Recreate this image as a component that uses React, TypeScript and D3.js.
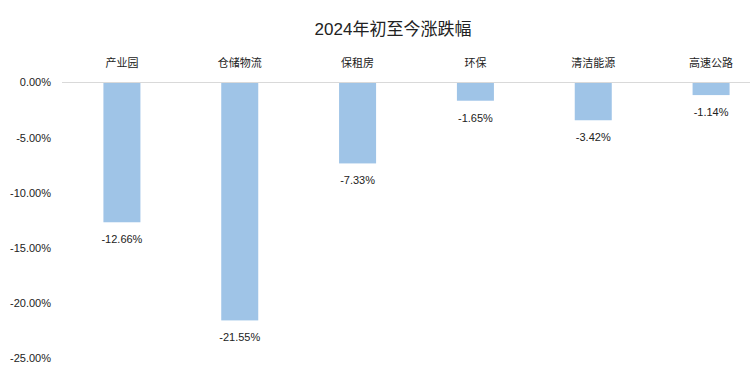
import React from "react";
import * as d3 from "d3";

const categories = ["产业园", "仓储物流", "保租房", "环保", "清洁能源", "高速公路"];
const values = [-12.66, -21.55, -7.33, -1.65, -3.42, -1.14];
const ticks = [0, -5, -10, -15, -20, -25];

const W = 750;
const H = 390;
const FONT = '"Liberation Sans", Arial, "Noto Sans CJK SC", sans-serif';

export default function App() {
  const x = d3.scaleBand<string>().domain(categories).range([63, 770]).paddingInner(0.686).paddingOuter(0.343);
  const y = d3.scaleLinear().domain([0, -25]).range([82.5, 358.5]);
  const fmt = (v: number) => v.toFixed(2) + "%";
  return (
    <svg width={W} height={H} style={{ position: "absolute", left: 0, top: 0, background: "#fff" }} fontFamily={FONT}>
      <text x={393} y={35} textAnchor="middle" fontSize={17} fill="#222">2024年初至今涨跌幅</text>
      {ticks.map((t) => (
        <text key={t} x={51} y={y(t)} dy="0.35em" textAnchor="end" fontSize={11} fill="#222">{fmt(t)}</text>
      ))}
      <line x1={62} x2={W} y1={y(0)} y2={y(0)} stroke="#d9d9d9" strokeWidth={1} />
      {categories.map((c, i) => {
        const v = values[i];
        const cx = (x(c) as number) + x.bandwidth() / 2;
        return (
          <g key={c}>
            <text x={cx} y={63} dy="0.35em" textAnchor="middle" fontSize={11} fill="#222">{c}</text>
            <rect x={x(c)} y={y(0) + 0.5} width={x.bandwidth()} height={y(v) - y(0) - 0.5} fill="#9fc4e7" />
            <text x={cx} y={y(v) + 17} dy="0.35em" textAnchor="middle" fontSize={11} fill="#222">{fmt(v)}</text>
          </g>
        );
      })}
    </svg>
  );
}
